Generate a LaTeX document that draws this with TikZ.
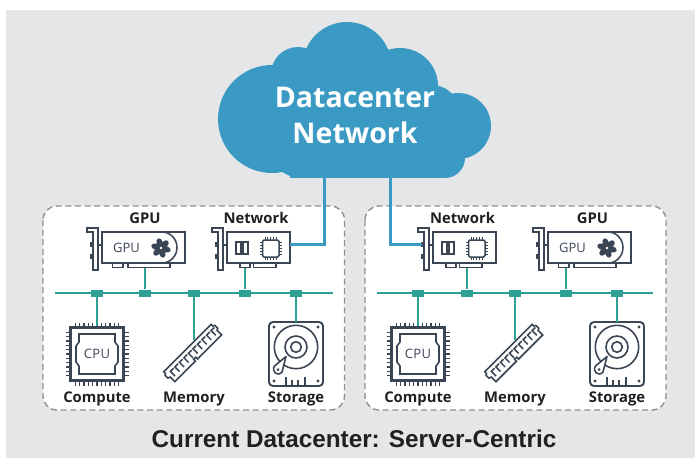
\documentclass[tikz,border=0pt]{standalone}
\usepackage{fontspec}
\setmainfont{Open Sans}
\newfontfamily\titlefont{Liberation Sans}
\definecolor{bgc}{HTML}{E5E6E8}
\definecolor{cloudc}{HTML}{3A9AC4}
\definecolor{iconc}{HTML}{3B4655}
\definecolor{tealc}{HTML}{2FA094}
\definecolor{dashc}{HTML}{8F9092}
\definecolor{textc}{HTML}{231F20}
\tikzset{
  icon/.style={draw=iconc,line width=1.5pt,line join=miter},
  serverbox/.style={draw=dashc,fill=white,line width=1.4pt,dash pattern=on 6pt off 3.6pt,rounded corners=14pt},
  bus/.style={draw=tealc,line width=1.1pt},
  tap/.style={rectangle,fill=tealc,draw=none,minimum width=12pt,minimum height=7pt,inner sep=0pt},
  blue link/.style={draw=cloudc,line width=3pt,line join=miter},
  lbl/.style={font=\bfseries\fontsize{14.8}{15}\selectfont,text=textc,inner sep=0pt,anchor=base},
  cloudtext/.style={font=\bfseries\fontsize{28.5}{30}\selectfont,text=white,inner sep=0pt,anchor=base},
  icontext/.style={font=\fontsize{13}{14}\selectfont,text=iconc,inner sep=0pt},
  pics/bracket/.style={code={
    \draw[icon,fill=white] (-15,-4)--(-4,-4)--(-4,38)--(-9,38)--(-9,0)--(-15,0)--cycle;
    \fill[iconc] (-12,10) rectangle (-9,15);
    \fill[iconc] (-12,22) rectangle (-9,27);
    \draw[icon] (-4,13)--(0,13);
  }},
  pics/gpucard/.style={code={
    \pic {bracket};
    \draw[icon,fill=white] (10.5,31)rectangle(21,35.5);
    \draw[icon,fill=white] (26,31)rectangle(68,35.5);
    \draw[icon,fill=white] (0,0) rectangle (83,31);
    \draw[icon] (60,0) arc[start angle=-90,end angle=90,x radius=15,y radius=15.5];
    \node[icontext] (-gpulabel) at (24.5,16) {GPU};
    \foreach \a in {0,60,...,300}{
      \fill[iconc,rotate around={\a+15:(59,16)}] (59,10.4) ellipse[x radius=3.1pt,y radius=4.4pt];
    }
    \fill[iconc] (59,16) circle[radius=3.2pt];
    \fill[white] (59,16) circle[radius=1.4pt];
    \coordinate (-bus) at (#1,35.5);
  }},
  pics/netcard/.style={code={
    \pic {bracket};
    \draw[icon,fill=white] (13,31)rectangle(23,35.5);
    \draw[icon,fill=white] (26.5,31)rectangle(49,35.5);
    \draw[icon,fill=white] (0,0) rectangle (63,31);
    \draw[icon] (9,10) rectangle (14,22);
    \draw[icon] (16,10) rectangle (21,22);
    \draw[icon,rounded corners=1.5pt] (35.5,8) rectangle (52,25);
    \foreach \t in {-5.6,-2.8,0,2.8,5.6}{
      \draw[iconc,line width=1pt] (43.75+\t,5) -- (43.75+\t,8);
      \draw[iconc,line width=1pt] (43.75+\t,25) -- (43.75+\t,28);
      \draw[iconc,line width=1pt] (32.5,16.5+\t) -- (35.5,16.5+\t);
      \draw[iconc,line width=1pt] (52,16.5+\t) -- (55,16.5+\t);
    }
    \coordinate (-bus) at (#1,35.5);
    \coordinate (-east) at (63,12);
    \coordinate (-west) at (-11,12);
  }},
  pics/cpuchip/.style={code={
    \foreach \t in {-21.5,-17.2,...,21.6}{
      \draw[iconc,line width=1.3pt] (\t,-31.5)--(\t,-26.5);
      \draw[iconc,line width=1.3pt] (\t,31.5)--(\t,26.5);
      \draw[iconc,line width=1.3pt] (-31.5,\t)--(-26.5,\t);
      \draw[iconc,line width=1.3pt] (31.5,\t)--(26.5,\t);
    }
    \draw[icon,line width=2.2pt] (-26.5,-26.5) rectangle (26.5,26.5);
    \draw[icon,line width=1.6pt] (-18,-20)--(18,-20)--(18,-12)--(21,-8)--(21,8)--(18,12)--(18,20)--(-18,20)--(-18,12)--(-21,8)--(-21,-8)--(-18,-12)--cycle;
    \node[icontext] (-cpulabel) at (0,0) {C\kern.4pt P\kern.4pt U};
    \coordinate (-top) at (0,-28);
  }},
  pics/ramstick/.style={code={
    \begin{scope}[rotate=45]
    \draw[icon,line width=1.6pt,fill=white] (-34,-7.5)--(33,-7.5)--(33,-5)--(35,-4)--(35,0)--(33,1)--(33,7.5)--(-1,7.5)--(-1,5)--(-4,5)--(-4,7.5)--(-33,7.5)--(-33,1)--(-35.5,0)--(-35.5,-4)--(-34,-5)--cycle;
    \foreach \t in {-29,-22.6,...,30}{
      \draw[iconc,line width=1.5pt] (\t+4.5,-3)--(\t,-3)--(\t,3.6);
    }
    \end{scope}
  }},
  pics/harddisk/.style={code={
    \draw[icon,line width=1.9pt,rounded corners=4pt,fill=white] (-27,-32) rectangle (27,32);
    \foreach \p in {(-22,-27),(22,-27),(-22,27),(22,27)}{\fill[iconc] \p circle[radius=1.6pt];}
    \draw[icon,line width=1.6pt] (0,-7) circle[radius=21.7];
    \draw[icon,line width=1.6pt] (0,-7) circle[radius=11];
    \draw[icon,line width=1.6pt] (0,-7) circle[radius=5.3];
    \draw[icon,line width=1.6pt,fill=white,line join=round] (-10,2.5) -- (-21.5,12) .. controls (-25,18) and (-18,23) .. (-14,18) -- cycle;
    \fill[iconc] (-18,15.5) circle[radius=1.5pt];
    \draw[icon,line width=1.4pt] (-10,23)--(-10,32) (-4,26)--(-4,32) (2,26)--(2,32) (9,23)--(9,32);
    \coordinate (-top) at (0,-32);
  }},
}
\begin{document}
\begin{tikzpicture}[x=1pt,y=-1pt]
\useasboundingbox (0,0) rectangle (695,458);
\fill[bgc] (6,10) rectangle (695,458);

% server boxes
\draw[serverbox] (43,206) rectangle (344.5,410);
\draw[serverbox] (365,206) rectangle (666,410);

% cloud
\fill[cloudc] (272,119) circle[radius=54];
\fill[cloudc] (347,66.5) circle[radius=44.5];
\fill[cloudc] (298,74) circle[radius=27];
\fill[cloudc] (400,86) circle[radius=38];
\fill[cloudc] (458,126) circle[radius=33];
\fill[cloudc] (432,112) circle[radius=27];
\fill[cloudc] (445,158) circle[radius=20];
\fill[cloudc] (302,143) circle[radius=35];
\fill[cloudc] (290,90) rectangle (445,178);
\node[cloudtext] (dcname) at (355,107) {Datacenter};
\node[cloudtext] (netname) at (355,143) {Network};
\coordinate (cloudL) at (324,175);
\coordinate (cloudR) at (390,175);

% buses
\coordinate (busAw) at (55,293);
\coordinate (busAe) at (333,293);
\coordinate (busBw) at (377,293);
\coordinate (busBe) at (653,293);
\draw[bus] (busAw) -- (busAe);
\draw[bus] (busBw) -- (busBe);

% cards
\pic (gA) at (102,232) {gpucard=43};
\pic (nA) at (227,232) {netcard=18};
\pic (nB) at (433,232) {netcard=34};
\pic (gB) at (548,232) {gpucard=18};

% tops labels
\node[lbl] (lgA) at (145,223) {GPU};
\node[lbl] (lnA) at (256,223) {Network};
\node[lbl] (lnB) at (462.5,223) {Network};
\node[lbl] (lgB) at (592.5,223) {GPU};

% uplinks
\draw[blue link] (cloudL) |- (nA-east);
\draw[blue link] (cloudR) |- (nB-west);

% lower icons
\pic (cA) at (97,354) {cpuchip};
\pic (mA) at (193,353) {ramstick};
\pic (hA) at (296,354) {harddisk};
\pic (cB) at (418,354) {cpuchip};
\pic (mB) at (514,353) {ramstick};
\pic (hB) at (617,354) {harddisk};

\node[lbl] (lcA) at (97,402) {Compute};
\node[lbl] (lmA) at (194,402) {Memory};
\node[lbl] (lhA) at (296,402) {Storage};
\node[lbl] (lcB) at (418,402) {Compute};
\node[lbl] (lmB) at (515,402) {Memory};
\node[lbl] (lhB) at (617,402) {Storage};

% taps
\foreach \n/\x in {a1/97,a2/145,a3/194,a4/245,a5/296,b1/418,b2/467,b3/515,b4/566,b5/617}{
  \node[tap] (\n) at (\x,293) {};
}
\coordinate (mAtop) at (194,340);
\coordinate (mBtop) at (515,340);
\draw[bus] (a1) -- (cA-top);
\draw[bus] (a2) -- (gA-bus);
\draw[bus] (a3) -- (mAtop);
\draw[bus] (a4) -- (nA-bus);
\draw[bus] (a5) -- (hA-top);
\draw[bus] (b1) -- (cB-top);
\draw[bus] (b2) -- (nB-bus);
\draw[bus] (b3) -- (mBtop);
\draw[bus] (b4) -- (gB-bus);
\draw[bus] (b5) -- (hB-top);

\node[font=\titlefont\bfseries\fontsize{24.3}{25}\selectfont,text=textc,inner sep=0pt,anchor=base] (title) at (354,447) {Current Datacenter: Server-Centric};
\end{tikzpicture}
\end{document}
